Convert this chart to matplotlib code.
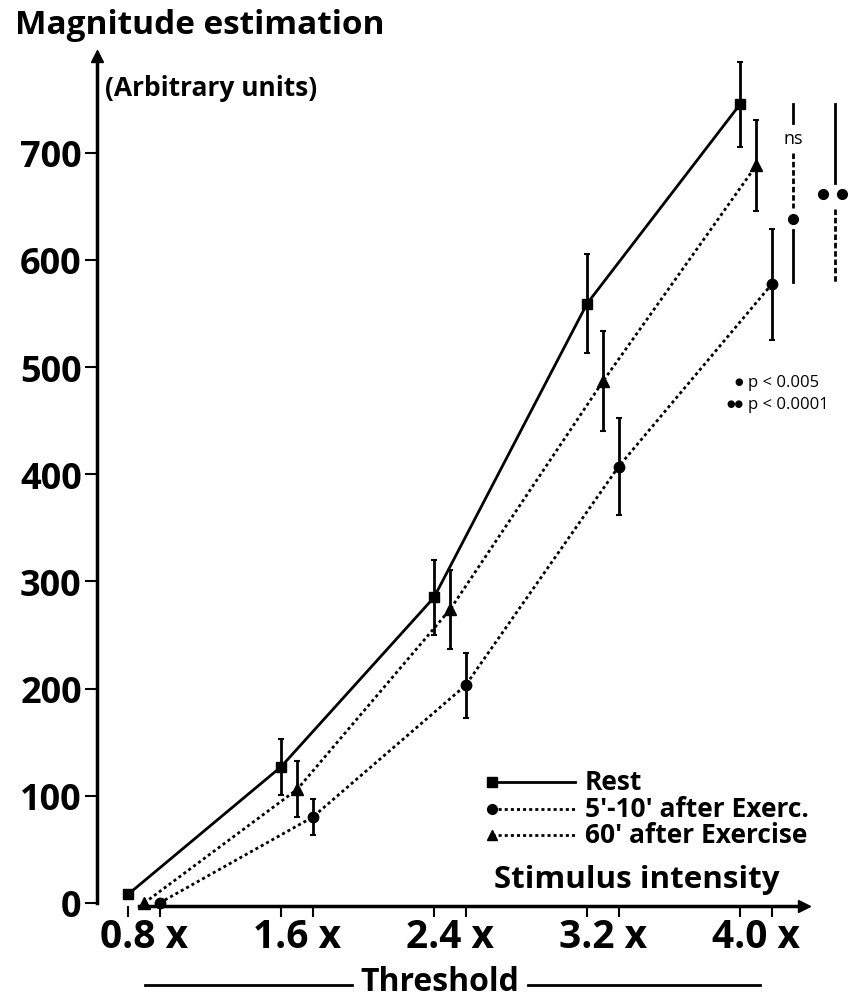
import matplotlib
matplotlib.use("Agg")
import matplotlib.pyplot as plt

# Stimulus levels (multiples of sensory threshold)
levels = [0.8, 1.6, 2.4, 3.2, 4.0]
level_labels = ["0.8 x", "1.6 x", "2.4 x", "3.2 x", "4.0 x"]

# Magnitude estimation means and error bars for each condition
rest_mean = [8, 127, 285, 559, 745]
rest_err = [0, 26, 35, 46, 40]
post60_mean = [0, 106, 274, 487, 688]
post60_err = [0, 26, 37, 47, 42]
post5_mean = [0, 80, 203, 407, 577]
post5_err = [0, 17, 30, 45, 52]

series_names = ["Rest", "5'-10' after Exerc.", "60' after Exercise"]
y_ticks = [0, 100, 200, 300, 400, 500, 600, 700]

FONT = "Open Sans"
FONTS = [FONT, "DejaVu Sans"]
W, H = 857, 1003


def fx(x):
    return x / W


def fy(y):
    return 1 - y / H


fig = plt.figure(figsize=(W / 100, H / 100), dpi=100)
ax = fig.add_axes([fx(97), fy(907), fx(857 - 97), (907 - 55) / H])
ax.set_xlim(0.638, 4.612)
ax.set_ylim(-2.8, 792)

dotted = (0, (1.1, 1.1))
series = [
    (rest_mean, rest_err, 0.0, "-", "s", 7.5),
    (post60_mean, post60_err, 0.085, dotted, "^", 8),
    (post5_mean, post5_err, 0.165, dotted, "o", 7.5),
]

for mean, err, off, ls, mk, ms in series:
    xs = [l + off for l in levels]
    ax.plot(xs, mean, color="black", lw=2, ls=ls, marker=mk, ms=ms,
            markerfacecolor="black", markeredgecolor="black", clip_on=False,
            zorder=3)
    idx = [i for i, e in enumerate(err) if e > 0]
    ax.errorbar([xs[i] for i in idx], [mean[i] for i in idx],
                yerr=[err[i] for i in idx], fmt="none", ecolor="black",
                elinewidth=2, capsize=2.5, capthick=1.5, zorder=2)

# Axes: arrows instead of a full frame
for s in ["top", "right"]:
    ax.spines[s].set_visible(False)
ax.spines["left"].set_linewidth(2.5)
ax.spines["left"].set_bounds(0, 785)
ax.spines["bottom"].set_linewidth(2.5)
ax.spines["bottom"].set_bounds(0.86, 4.31)
ax.plot([0], [790], marker="^", ms=9, color="black",
        transform=ax.get_yaxis_transform(), clip_on=False)
ax.plot([4.335], [0], marker=">", ms=9, color="black",
        transform=ax.get_xaxis_transform(), clip_on=False)

ax.set_yticks(y_ticks)
ax.set_yticklabels([str(v) for v in y_ticks], fontfamily=FONT,
                   fontweight="bold", fontsize=26)
ax.tick_params(axis="y", length=9, width=1.5, pad=2)

ax.set_xticks([l + 0.085 for l in levels])
ax.set_xticklabels(level_labels, fontfamily=FONT, fontweight="bold",
                   fontsize=28)
ax.tick_params(axis="x", which="major", length=0, pad=8)
minor = [l + o for l in levels for o in (0.0, 0.085, 0.165)]
ax.set_xticks(minor, minor=True)
ax.tick_params(axis="x", which="minor", length=8, width=1.5)

# Significance markers beside the 4.0 x points
ax.plot([4.277, 4.277], [745, 728], color="black", lw=2)
ax.text(4.277, 714, "ns", ha="center", va="center", fontsize=13,
        fontfamily=FONT)
ax.plot([4.277, 4.277], [700, 648], color="black", lw=2, ls=(0, (2, 1)))
ax.plot([4.277], [638], marker="o", ms=7, color="black")
ax.plot([4.277, 4.277], [628, 579], color="black", lw=2)

ax.plot([4.497, 4.497], [745, 672], color="black", lw=2)
ax.plot([4.434, 4.533], [661, 661], ls="none", marker="o", ms=7,
        color="black", clip_on=False)
ax.plot([4.497, 4.497], [647, 579], color="black", lw=2, ls=(0, (2, 1)))

# Key to the significance symbols
fig.text(fx(743), fy(383), "\u25cf", fontsize=7, family=FONTS,
         ha="right", va="center")
fig.text(fx(748), fy(383), "p < 0.005", fontsize=12, family=FONTS,
         ha="left", va="center")
fig.text(fx(743), fy(405), "\u25cf\u25cf", fontsize=7, family=FONTS,
         ha="right", va="center")
fig.text(fx(748), fy(405), "p < 0.0001", fontsize=12, family=FONTS,
         ha="left", va="center")

# Legend drawn as sample lines with leading markers
legend_rows = [(783, "-", "s"), (810, dotted, "o"), (836, dotted, "^")]
for (yy, ls, mk), name in zip(legend_rows, series_names):
    fig.add_artist(plt.Line2D([fx(492), fx(575)], [fy(yy), fy(yy)],
                              color="black", lw=2, ls=ls,
                              transform=fig.transFigure))
    fig.add_artist(plt.Line2D([fx(492)], [fy(yy)], marker=mk, ms=7,
                              color="black", transform=fig.transFigure))
    fig.text(fx(585), fy(yy), name, fontsize=19, fontweight="bold",
             fontfamily=FONT, ha="left", va="center")

# Axis titles
fig.text(fx(15), fy(25), "Magnitude estimation", fontsize=24,
         fontweight="bold", fontfamily=FONT, ha="left", va="center")
fig.text(fx(105), fy(88), "(Arbitrary units)", fontsize=19,
         fontweight="bold", fontfamily=FONT, ha="left", va="center")
fig.text(fx(780), fy(880), "Stimulus intensity", fontsize=22.5,
         fontweight="bold", fontfamily=FONT, ha="right", va="center")
fig.text(fx(440), fy(983), "Threshold", fontsize=23, fontweight="bold",
         fontfamily=FONT, ha="center", va="center")
for x0, x1 in [(145, 352), (528, 760)]:
    fig.add_artist(plt.Line2D([fx(x0), fx(x1)], [fy(986), fy(986)],
                              color="black", lw=2, transform=fig.transFigure))

fig.savefig("out.png", dpi=100)
